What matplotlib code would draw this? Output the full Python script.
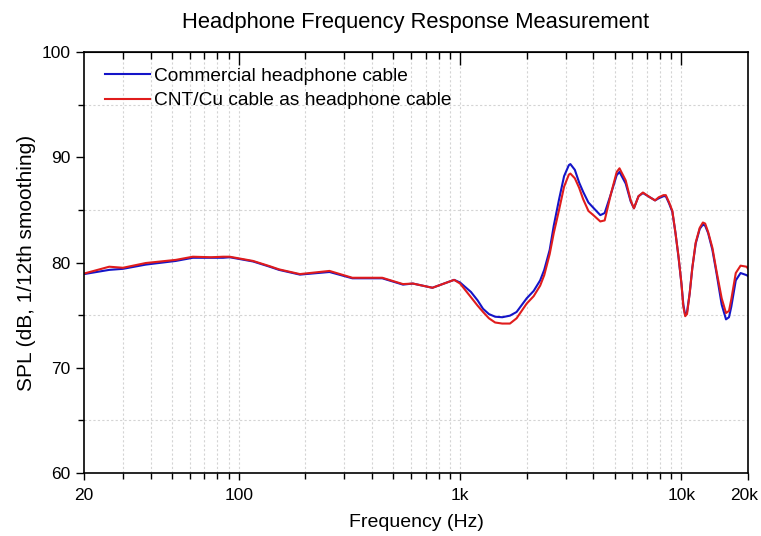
import numpy as np
import matplotlib
matplotlib.use("Agg")
import matplotlib.pyplot as plt
import matplotlib.transforms as mtransforms
from matplotlib.ticker import FixedLocator, NullFormatter, MultipleLocator

plt.rcParams['font.family'] = ['Liberation Sans', 'DejaVu Sans']

# frequency points (Hz)
freq = [20, 26, 30, 38, 52, 62, 75, 85, 91, 116, 138, 152, 189, 257, 326, 445,
        552, 612, 750, 940, 1000, 1120, 1200, 1270, 1350, 1440, 1550, 1680, 1800,
        2000, 2150, 2300, 2400, 2540, 2650, 2800, 2950, 3100, 3150, 3300, 3450,
        3600, 3800, 4000, 4300, 4500, 4800, 5100, 5250, 5600, 5900, 6100, 6400,
        6700, 7200, 7600, 7900, 8300, 8500, 8800, 9100, 9400, 9700, 10000, 10200,
        10400, 10600, 10900, 11200, 11600, 12100, 12500, 12800, 13200, 13800,
        14400, 15200, 15900, 16400, 16800, 17600, 18500, 19700, 20000]

commercial = [78.9, 79.3, 79.4, 79.8, 80.15, 80.45, 80.45, 80.45, 80.5, 80.1, 79.6,
              79.3, 78.85, 79.1, 78.5, 78.5, 77.9, 78.0, 77.6, 78.35, 78.1, 77.2,
              76.4, 75.6, 75.1, 74.85, 74.8, 74.95, 75.3, 76.6, 77.3, 78.3, 79.3,
              81.2, 83.5, 86.0, 88.2, 89.25, 89.35, 88.8, 87.6, 86.7, 85.7, 85.2,
              84.5, 84.7, 86.5, 88.3, 88.6, 87.5, 85.8, 85.15, 86.3, 86.6, 86.2,
              85.9, 86.1, 86.3, 86.3, 85.6, 84.8, 82.8, 80.5, 78.0, 76.0, 75.0,
              75.3, 77.1, 79.5, 81.8, 83.2, 83.6, 83.5, 82.8, 81.2, 79.0, 76.0,
              74.6, 74.8, 75.8, 78.3, 79.0, 78.8, 78.7]

cnt_cu = [78.95, 79.6, 79.5, 79.95, 80.25, 80.55, 80.5, 80.55, 80.55, 80.15, 79.65,
          79.35, 78.9, 79.2, 78.55, 78.55, 77.95, 78.0, 77.6, 78.35, 78.0, 76.7,
          75.9, 75.3, 74.7, 74.3, 74.2, 74.2, 74.7, 76.1, 76.8, 77.8, 78.8,
          80.8, 82.8, 85.0, 87.2, 88.35, 88.45, 88.0, 87.1, 86.0, 84.9, 84.5,
          83.9, 84.0, 86.5, 88.6, 88.95, 87.8, 85.9, 85.15, 86.3, 86.65, 86.2,
          85.9, 86.2, 86.4, 86.4, 85.7, 84.9, 82.8, 80.6, 78.0, 75.8, 74.9,
          75.1, 77.1, 79.5, 81.9, 83.3, 83.8, 83.7, 82.9, 81.4, 79.2, 76.6,
          75.2, 75.4, 76.5, 79.0, 79.7, 79.6, 79.4]

xticks = [20, 100, 1000, 10000, 20000]
xticklabels = ['20', '100', '1k', '10k', '20k']
minor_x = [30, 40, 50, 60, 70, 80, 90, 200, 300, 400, 500, 600, 700, 800, 900,
           2000, 3000, 4000, 5000, 6000, 7000, 8000, 9000]

fig = plt.figure(figsize=(7.61, 5.36), dpi=100)
ax = fig.add_axes([0.1104, 0.1175, 0.8726, 0.7855])

ax.plot(freq, commercial, color='#1414c8', lw=1.5, label='Commercial headphone cable')
ax.plot(freq, cnt_cu, color='#e01c1c', lw=1.5, label='CNT/Cu cable as headphone cable')

ax.set_xscale('log')
ax.set_xlim(20, 20000)
ax.set_ylim(60, 100)
ax.set_xticks(xticks)
ax.set_xticklabels(xticklabels)
ax.xaxis.set_minor_locator(FixedLocator(minor_x))
ax.xaxis.set_minor_formatter(NullFormatter())
ax.yaxis.set_major_locator(MultipleLocator(10))
ax.yaxis.set_minor_locator(MultipleLocator(5))

for f in minor_x + [100, 1000, 10000]:
    ax.axvline(f, color='#d4d4d4', lw=0.8, ls=(0, (2, 2)), zorder=0)
for v in [65, 75, 85, 95]:
    ax.axhline(v, color='#d4d4d4', lw=0.8, ls=(0, (2, 2)), zorder=0)

ax.tick_params(axis='both', which='major', direction='out', length=6, width=1,
               labelsize=12.5, right=False, top=False)
ax.tick_params(axis='both', which='minor', direction='out', length=4, width=1)
ax.tick_params(axis='x', which='major', length=5, pad=6)

# keep the 20k label inside the figure
last = ax.get_xticklabels()[-1]
last.set_transform(last.get_transform() +
                   mtransforms.ScaledTranslation(-4 / 100, 0, fig.dpi_scale_trans))

top = ax.secondary_xaxis('top')
top.set_xticks([100, 1000, 10000])
top.xaxis.set_minor_locator(FixedLocator(minor_x))
top.xaxis.set_minor_formatter(NullFormatter())
top.tick_params(which='major', direction='in', length=9, width=1, labeltop=False)
top.tick_params(which='minor', direction='in', length=5, width=1)

for s in ax.spines.values():
    s.set_linewidth(1.2)

ax.set_xlabel('Frequency (Hz)', fontsize=14, labelpad=8)
ax.set_ylabel('SPL (dB, 1/12th smoothing)', fontsize=15, labelpad=4)
ax.set_title('Headphone Frequency Response Measurement', fontsize=15.8, pad=17)

ax.legend(loc='upper left', frameon=False, fontsize=13.8, handlelength=2.3,
          handletextpad=0.25, labelspacing=0.35, borderaxespad=0.2,
          bbox_to_anchor=(0.015, 0.99))

fig.savefig('out.png', dpi=100)
